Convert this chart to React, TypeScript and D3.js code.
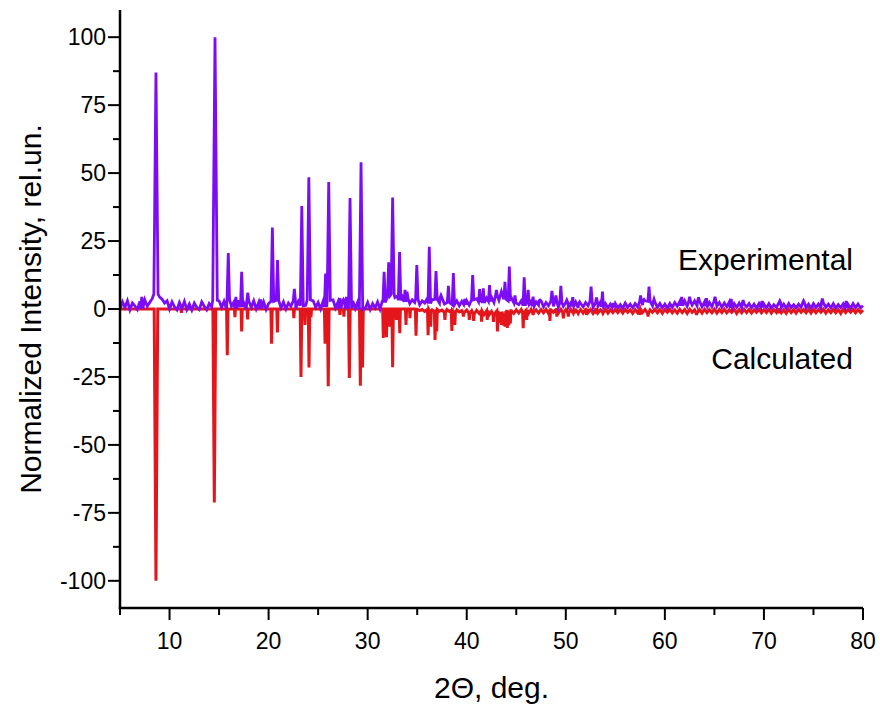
import React from "react";
import * as d3 from "d3";

const width = 880;
const height = 707;
const margin = { top: 10, right: 17, bottom: 99, left: 120 };

// experimental background, read every 0.25 deg from 5 to 80
const expBackground = [
  -0.2, 2.6, 0.6, 3.0, -0.3, 2.2, 1.2, -0.2, 2.8, 0.2, 3.4, 1.0, 2.4, 3.8, 4.6, 5.5, 4.4, 3.6, 2.2, 3.0, // 5
  0.0, 2.6, 0.8, -0.3, 2.4, 0.2, 2.8, -0.2, 1.8, -0.4, 2.2, 0.6, -0.2, 2.6, 1.0, -0.3, 2.0, 0.8, 3.2, 4.0, // 10
  3.0, 0.6, 2.8, 0.0, 3.4, 1.0, 2.6, 0.2, 3.2, 0.8, 2.2, -0.2, 2.8, 0.6, 3.0, 0.0, 2.4, 0.2, 2.6, -0.2, // 15
  2.0, 0.2, 2.8, 0.8, 3.2, 0.4, 2.6, 0.0, 2.2, 1.0, 3.0, 0.2, 2.8, 1.2, 3.6, 1.4, 3.4, 1.6, 3.0, 0.6, // 20
  2.4, 0.0, 2.8, 0.8, 3.2, 1.4, 3.4, 0.4, 2.6, 0.2, 2.8, 0.0, 2.4, 0.4, 3.0, 0.2, 2.6, -0.2, 2.2, 0.2, // 25
  2.4, -0.2, 2.0, 0.4, 2.6, 0.0, 3.2, 2.4, 4.8, 3.6, 5.4, 4.2, 4.8, 3.2, 4.4, 2.6, 3.8, 2.0, 3.4, 2.4, // 30
  3.6, 1.6, 3.0, 2.2, 3.8, 2.0, 3.4, 1.4, 3.6, 2.2, 4.0, 1.8, 3.2, 2.4, 3.8, 1.6, 3.0, 1.2, 2.8, 1.6, // 35
  3.0, 1.4, 3.4, 2.0, 3.8, 2.6, 4.2, 2.2, 4.0, 2.8, 4.4, 2.4, 4.6, 3.2, 5.0, 3.6, 4.8, 3.0, 4.2, 2.2, // 40
  3.4, 1.6, 3.0, 1.2, 3.2, 1.8, 2.8, 1.0, 2.6, 1.4, 3.0, 0.8, 2.4, 1.2, 2.8, 1.0, 2.6, 0.6, 2.2, 1.0, // 45
  2.4, 0.6, 2.2, 1.0, 2.6, 0.4, 2.0, 0.8, 2.4, 1.2, 2.8, 0.6, 2.2, 1.0, 2.6, 0.8, 2.0, 0.4, 1.8, 0.6, // 50
  2.0, 0.4, 1.6, 0.3, 2.2, 0.6, 1.8, 0.4, 2.0, 0.8, 2.6, 1.4, 3.0, 1.6, 2.8, 1.2, 2.4, 0.6, 2.0, 0.4, // 55
  1.8, 0.3, 2.0, 0.6, 2.4, 1.0, 2.8, 1.2, 3.0, 1.0, 2.6, 1.4, 3.0, 1.2, 2.8, 0.8, 2.6, 1.0, 2.4, 0.8, // 60
  2.8, 1.0, 2.4, 0.6, 2.2, 0.8, 2.6, 0.4, 2.0, 0.6, 2.2, 0.5, 1.8, 0.8, 2.0, 0.4, 1.8, 0.3, 2.0, 0.6, // 65
  1.8, 0.4, 2.0, 0.3, 1.6, 0.6, 2.2, 0.4, 1.8, 0.3, 2.0, 0.5, 1.6, 0.4, 1.8, 0.6, 2.2, 0.4, 1.8, 0.3, // 70
  2.0, 0.5, 1.8, 0.3, 2.2, 0.6, 1.8, 0.4, 2.0, 0.3, 1.6, 0.5, 1.9, 0.4, 1.7, 0.3, 2.0, 0.5, 1.8, 0.4, // 75
  1.2,
];

// experimental reflections: 2theta and intensity
const expPeakPos = [
  7.2, 8.63, 14.59, 15.93, 16.7, 17.28, 17.9, 19.2, 20.38, 20.9,
  22.6, 23.35, 24.06, 25.75, 26.07, 27.2, 27.55, 27.85, 28.22, 29.33,
  31.66, 32.12, 32.52, 33.22, 33.77, 33.97, 34.96, 36.22, 36.9, 37.4,
  38.15, 38.65, 39.8, 40.6, 41.3, 41.67, 42.3, 43.0, 43.5, 43.86,
  44.3, 44.87, 45.8, 46.2, 46.7, 47.4, 48.6, 49.0, 49.5, 50.1,
  50.7, 51.4, 52.55, 53.1, 53.7, 54.8, 57.55, 57.9, 58.4, 58.9,
  61.7, 62.5, 63.4, 64.2, 65.06, 66.7, 67.9, 69.8, 71.6, 74.0,
  75.9, 78.3,
];
const expPeakInt = [
  4.5, 87, 100, 20.6, 4.5, 13.7, 6, 3.5, 30, 18,
  7.4, 37.9, 48.5, 13, 46.7, 4, 3.5, 4.5, 40.8, 54,
  13.7, 17.2, 41, 21, 7, 6.4, 16.2, 22.9, 14, 5,
  8.5, 13.2, 3.7, 12.5, 7.3, 7.6, 8.8, 7, 6.4, 10,
  15.6, 5, 11.7, 7, 4.5, 3.3, 6.7, 5, 8.5, 3.3,
  4.4, 2.6, 8.2, 4.2, 6.4, 2.2, 5, 3.5, 8.2, 3.6,
  4.4, 4.5, 4.3, 4, 4.5, 3.7, 3.3, 3, 3, 3,
  3.8, 3,
];

// calculated background, every 0.25 deg from 5 to 80
const calcBackground = [
  0, 0, 0, 0, 0, 0, 0, 0, 0, 0, 0, 0, 0, 0, 0, 0, 0, 0, 0, 0, // 5
  0, 0, 0, 0, 0, 0, 0, 0, 0, 0, 0, 0, 0, 0, 0, 0, 0, 0, 0, 0, // 10
  0, 0, 0, 0, 0, 0, 0, 0, 0, 0, 0, 0, 0, 0, 0, 0, 0, 0, 0, 0, // 15
  0, 0, 0, 0, 0, 0, 0, 0, 0, 0, 0, 0, 0, 0, 0, 0, 0, 0, 0, 0, // 20
  0, 0, 0, 0, 0, 0, 0, 0, 0, 0, 0, 0, 0, 0, 0, 0, 0, 0, 0, 0, // 25
  0, 0, 0, 0, 0, 0, 0, 0, 0, 0, 0, 0, 0, 0, 0, 0, 0, 0, 0, 0, // 30
  -0.1, -0.6, -0.2, -0.9, -0.1, -0.7, -0.3, -1.0, -0.2, -0.8, -0.4, -1.2, -0.2, -0.9, -0.5, -1.3, -0.3, -1.1, -0.6, -1.4, // 35
  -0.4, -1.5, -0.6, -1.8, -0.5, -1.6, -0.8, -2.0, -0.6, -2.2, -0.9, -2.0, -0.7, -2.4, -1.0, -2.2, -0.8, -2.0, -0.6, -1.6, // 40
  -0.3, -1.5, -0.2, -1.3, -0.4, -1.6, -0.1, -1.2, -0.3, -1.5, -0.2, -1.4, -0.1, -1.6, -0.3, -1.2, -0.2, -1.5, -0.1, -1.3, // 45
  -0.2, -1.4, -0.1, -1.6, -0.3, -1.2, -0.2, -1.5, -0.1, -1.3, -0.2, -1.6, -0.1, -1.4, -0.3, -1.2, -0.1, -1.5, -0.2, -1.3, // 50
  -0.1, -1.3, -0.2, -1.5, -0.1, -1.2, -0.3, -1.6, -0.2, -1.4, -0.1, -1.3, -0.2, -1.5, -0.3, -1.2, -0.1, -1.4, -0.2, -1.6, // 55
  -0.2, -1.2, -0.1, -1.4, -0.3, -1.5, -0.1, -1.3, -0.2, -1.6, -0.1, -1.2, -0.3, -1.4, -0.2, -1.5, -0.1, -1.3, -0.2, -1.4, // 60
  -0.1, -1.5, -0.2, -1.3, -0.1, -1.4, -0.3, -1.2, -0.1, -1.6, -0.2, -1.4, -0.1, -1.3, -0.2, -1.5, -0.3, -1.2, -0.1, -1.4, // 65
  -0.2, -1.3, -0.1, -1.5, -0.2, -1.2, -0.1, -1.4, -0.3, -1.6, -0.1, -1.3, -0.2, -1.5, -0.1, -1.2, -0.2, -1.4, -0.1, -1.5, // 70
  -0.1, -1.4, -0.2, -1.2, -0.1, -1.5, -0.3, -1.3, -0.1, -1.4, -0.2, -1.6, -0.1, -1.3, -0.2, -1.2, -0.1, -1.4, -0.2, -1.3, // 75
  -0.4,
];

// calculated reflections (plotted downwards)
const calcPeakPos = [
  8.63, 11.2, 14.52, 15.83, 16.6, 17.28, 17.88, 20.3, 20.89, 22.55,
  23.27, 23.67, 24.08, 24.28, 25.7, 26.02, 27.2, 27.6, 28.15, 29.26,
  29.48, 31.58, 31.9, 32.2, 32.52, 32.9, 33.24, 33.87, 34.27, 34.88,
  36.1, 36.36, 36.8, 36.97, 37.8, 38.5, 38.8, 39.66, 40.26, 40.7,
  41.5, 42.07, 42.7, 43.1, 43.3, 43.5, 43.7, 43.86, 44.0, 44.1,
  44.25, 44.4, 45.7, 46.05, 46.7, 48.4, 49.1, 49.75, 50.25, 50.9,
  51.25, 52.1, 53.1, 53.75, 57.5, 58.3, 63.2, 71.4,
];
const calcPeakInt = [
  -100, -1.4, -71.2, -17, -3, -8.3, -3.8, -12.8, -8.6, -3.4,
  -25, -5.9, -21.5, -3, -12.8, -28.4, -2.2, -2.8, -25.4, -28.2,
  -21.5, -10.7, -10.4, -6.5, -21.4, -4, -8.9, -5.9, -3.4, -9.8,
  -9.6, -6.5, -11.4, -8.3, -4, -8.1, -5.9, -2.8, -4, -4.4,
  -4.7, -4, -4.7, -8.3, -5, -5.9, -6, -6.5, -6.5, -7,
  -6, -5.3, -7.1, -4, -2.2, -4.4, -2.8, -3.4, -2.8, -1.6,
  -1.6, -2.2, -1.9, -1.6, -2.2, -2.8, -2.2, -1.6,
];

const xTickValues = [10, 20, 30, 40, 50, 60, 70, 80];
const xMinorValues = [5, 15, 25, 35, 45, 55, 65, 75];
const yTickValues = [-100, -75, -50, -25, 0, 25, 50, 75, 100];
const yMinorValues = [-87.5, -62.5, -37.5, -12.5, 12.5, 37.5, 62.5, 87.5];

const bgStart = 5;
const bgStep = 0.25;

// peaks are drawn as narrow spikes whose foot widens a little with height
function buildProfile(bg: number[], pos: number[], inten: number[], base: number) {
  const pts: [number, number][] = [];
  const halves = inten.map((h) => base + 0.0013 * Math.abs(h));
  bg.forEach((v, i) => {
    const t = bgStart + i * bgStep;
    if (pos.some((p, j) => Math.abs(p - t) < halves[j] + 0.04)) return;
    pts.push([t, v]);
  });
  pos.forEach((p, i) => {
    const foot = bg[Math.round((p - bgStart) / bgStep)];
    pts.push([p - halves[i], foot], [p, inten[i]], [p + halves[i], foot]);
  });
  return pts.sort((a, b) => a[0] - b[0]);
}

const font = "'Liberation Sans', Arial, sans-serif";

export default function App() {
  const x = d3.scaleLinear().domain([5, 80]).range([margin.left, width - margin.right]);
  const y = d3.scaleLinear().domain([-110, 110]).range([height - margin.bottom, margin.top]);

  const line = d3
    .line<[number, number]>()
    .x((d) => x(d[0]))
    .y((d) => y(d[1]));

  const expData = buildProfile(expBackground, expPeakPos, expPeakInt, 0.1);
  const calcData = buildProfile(calcBackground, calcPeakPos, calcPeakInt, 0.05);

  const x0 = margin.left;
  const yb = height - margin.bottom;

  return (
    <svg
      width={width}
      height={height}
      style={{ position: "absolute", left: 0, top: 0, background: "#fff" }}
      fontFamily={font}
    >
      <path d={line(calcData) ?? ""} fill="none" stroke="#e3161c" strokeWidth={3} />
      <path d={line(expData) ?? ""} fill="none" stroke="#7b0cf5" strokeWidth={2.8} />

      {/* y axis */}
      <line x1={x0} x2={x0} y1={margin.top} y2={yb + 1.2} stroke="#000" strokeWidth={2.5} />
      {yTickValues.map((v) => (
        <g key={"yt" + v}>
          <line x1={x0 - 12} x2={x0} y1={y(v)} y2={y(v)} stroke="#000" strokeWidth={2} />
          <text x={x0 - 14} y={y(v)} dy="0.36em" textAnchor="end" fontSize={23}>
            {v}
          </text>
        </g>
      ))}
      {yMinorValues.map((v) => (
        <line key={"ym" + v} x1={x0 - 7} x2={x0} y1={y(v)} y2={y(v)} stroke="#000" strokeWidth={2} />
      ))}

      {/* x axis */}
      <line x1={x0 - 1.2} x2={width - margin.right} y1={yb} y2={yb} stroke="#000" strokeWidth={2.5} />
      {xTickValues.map((v) => (
        <g key={"xt" + v}>
          <line x1={x(v)} x2={x(v)} y1={yb} y2={yb + 12} stroke="#000" strokeWidth={2} />
          <text x={x(v)} y={yb + 41} textAnchor="middle" fontSize={23}>
            {v}
          </text>
        </g>
      ))}
      {xMinorValues.map((v) => (
        <line key={"xm" + v} x1={x(v)} x2={x(v)} y1={yb} y2={yb + 7} stroke="#000" strokeWidth={2} />
      ))}

      <text x={(x0 + width - margin.right) / 2} y={698} textAnchor="middle" fontSize={30}>
        2Θ, deg.
      </text>
      <text
        transform={`translate(41,${y(0)}) rotate(-90)`}
        textAnchor="middle"
        fontSize={30}
      >
        Normalized Intensity, rel.un.
      </text>

      <text x={853} y={270} textAnchor="end" fontSize={30}>
        Experimental
      </text>
      <text x={853} y={369} textAnchor="end" fontSize={30}>
        Calculated
      </text>
    </svg>
  );
}
